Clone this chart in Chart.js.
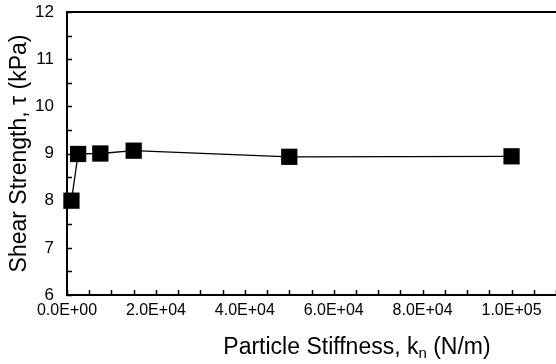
<!DOCTYPE html>
<html>
<head>
<meta charset="utf-8">
<script src="https://cdn.jsdelivr.net/npm/chart.js@4"></script>
<style>
  body { margin: 0; background: #fff; }
  #wrap { width: 556px; height: 364px; }
</style>
</head>
<body>
<div id="wrap"><canvas id="myChart"></canvas></div>
<script>
// particle stiffness kn (N/m) and shear strength (kPa)
const stiffness = [1000, 2500, 7500, 15000, 50000, 100000];
const shearStrength = [8.0, 8.99, 9.0, 9.06, 8.93, 8.94];

const xMin = 0, xMax = 110000, xMinorStep = 5000, xLabelStep = 20000, xLabelMax = 100000;
const yMin = 6, yMax = 12, yMinorStep = 0.5;

const FONT = "'Liberation Sans', Arial, sans-serif";

// 2.0E+04 style labels
function sciLabel(v) {
    const parts = v.toExponential(1).toUpperCase().split('E');
    const exp = parseInt(parts[1], 10);
    const sign = exp < 0 ? '-' : '+';
    return parts[0] + 'E' + sign + String(Math.abs(exp)).padStart(2, '0');
}

// tick marks pointing into the plot, plus top frame line and x title with subscript
const frameAndTicks = {
    id: 'frameAndTicks',
    beforeDatasetsDraw(chart) {
        const { ctx, chartArea, scales } = chart;
        ctx.save();
        ctx.strokeStyle = '#000';
        ctx.lineWidth = 1.5;
        ctx.beginPath();
        scales.x.ticks.forEach(t => {
            const px = Math.round(scales.x.getPixelForValue(t.value)) + 0.5;
            ctx.moveTo(px, chartArea.bottom);
            ctx.lineTo(px, chartArea.bottom - 5);
        });
        scales.y.ticks.forEach(t => {
            const py = Math.round(scales.y.getPixelForValue(t.value)) + 0.5;
            ctx.moveTo(chartArea.left, py);
            ctx.lineTo(chartArea.left + 5, py);
        });
        ctx.stroke();
        ctx.lineWidth = 2;
        ctx.beginPath();
        ctx.moveTo(chartArea.left, chartArea.top);
        ctx.lineTo(chartArea.right, chartArea.top);
        ctx.stroke();
        ctx.restore();
    },
    afterDraw(chart) {
        const { ctx, chartArea } = chart;
        const main1 = 'Particle Stiffness, k';
        const sub = 'n';
        const main2 = ' (N/m)';
        ctx.save();
        ctx.fillStyle = '#000';
        ctx.textBaseline = 'alphabetic';
        ctx.font = '23px ' + FONT;
        const w1 = ctx.measureText(main1).width;
        const w3 = ctx.measureText(main2).width;
        ctx.font = '15px ' + FONT;
        const w2 = ctx.measureText(sub).width;
        const total = w1 + w2 + w3;
        const cx = 357;
        const baseY = chartArea.bottom + 59;
        let x = cx - total / 2;
        ctx.font = '23px ' + FONT;
        ctx.fillText(main1, x, baseY);
        x += w1;
        ctx.font = '15px ' + FONT;
        ctx.fillText(sub, x, baseY + 4);
        x += w2;
        ctx.font = '23px ' + FONT;
        ctx.fillText(main2, x, baseY);
        ctx.restore();
    }
};

const ctx = document.getElementById('myChart');

const shearChart = new Chart(ctx, {
    type: 'line',
    data: {
        datasets: [{
            data: stiffness.map((k, i) => ({ x: k, y: shearStrength[i] })),
            borderColor: '#000',
            borderWidth: 1.3,
            backgroundColor: '#000',
            pointStyle: 'rect',
            pointRadius: 11.5,
            pointBorderWidth: 0,
            pointBackgroundColor: '#000',
            tension: 0,
            clip: false
        }]
    },
    options: {
        responsive: true,
        maintainAspectRatio: false,
        animation: false,
        layout: { autoPadding: false, padding: { top: 12, right: 0, left: 0, bottom: 0 } },
        plugins: {
            legend: { display: false },
            tooltip: { enabled: false }
        },
        scales: {
            x: {
                type: 'linear',
                min: xMin,
                max: xMax,
                afterBuildTicks: (scale) => {
                    const ticks = [];
                    for (let v = xMin; v <= xMax; v += xMinorStep) ticks.push({ value: v });
                    scale.ticks = ticks;
                },
                afterFit: (scale) => {
                    scale.height = 69;
                    scale.paddingLeft = 0;
                    scale.paddingRight = 0;
                },
                grid: { display: false, drawTicks: false },
                border: { display: true, color: '#000', width: 2 },
                ticks: {
                    autoSkip: false,
                    maxRotation: 0,
                    padding: 6,
                    color: '#000',
                    font: { family: FONT, size: 16 },
                    callback: (v) => (v % xLabelStep === 0 && v <= xLabelMax) ? sciLabel(v) : ''
                }
            },
            y: {
                type: 'linear',
                min: yMin,
                max: yMax,
                afterBuildTicks: (scale) => {
                    const ticks = [];
                    for (let v = yMin; v <= yMax + 1e-9; v += yMinorStep) ticks.push({ value: v });
                    scale.ticks = ticks;
                },
                afterFit: (scale) => {
                    scale.width = 67;
                    scale.paddingTop = 0;
                    scale.paddingBottom = 0;
                },
                grid: { display: false, drawTicks: false },
                border: { display: true, color: '#000', width: 2 },
                ticks: {
                    autoSkip: false,
                    padding: 13,
                    color: '#000',
                    font: { family: FONT, size: 17 },
                    callback: (v) => Number.isInteger(v) ? String(v) : ''
                },
                title: {
                    display: true,
                    text: 'Shear Strength, τ (kPa)',
                    color: '#000',
                    font: { family: FONT, size: 23 },
                    padding: { top: 6, bottom: 0 }
                }
            }
        }
    },
    plugins: [frameAndTicks]
});
</script>
</body>
</html>
